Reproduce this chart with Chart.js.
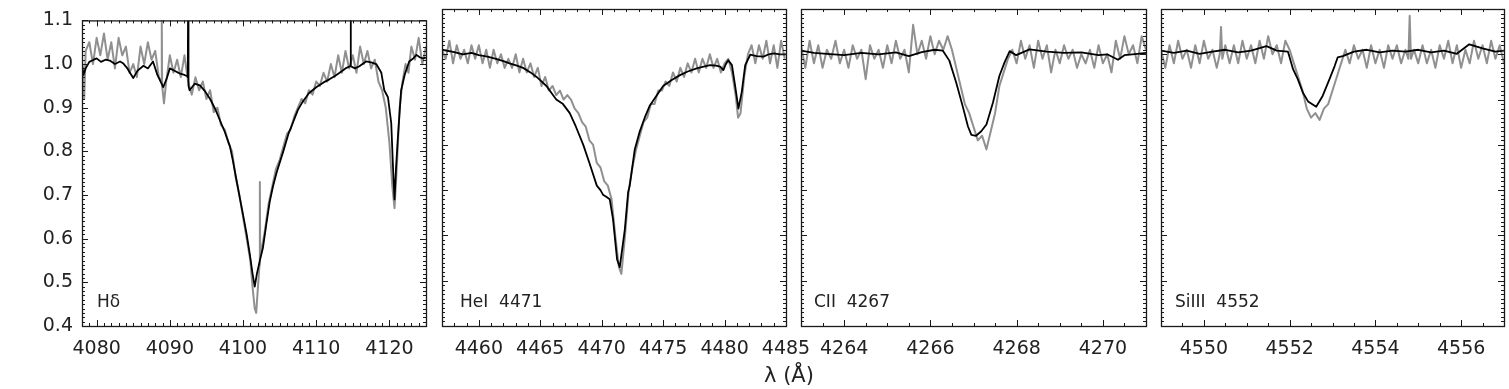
<!DOCTYPE html>
<html><head><meta charset="utf-8">
<script src="https://cdn.jsdelivr.net/npm/chart.js@4.4.1/dist/chart.umd.min.js"></script>
<style>
html,body{margin:0;padding:0;background:#fff;}
#wrap{position:relative;width:1509px;height:389px;overflow:hidden;background:#fff;}
#wrap canvas{position:absolute;left:0;top:0;}
</style></head><body>
<div id="wrap">
<canvas id="c0" width="1509" height="389"></canvas>
<canvas id="c1" width="1509" height="389"></canvas>
<canvas id="c2" width="1509" height="389"></canvas>
<canvas id="c3" width="1509" height="389"></canvas>
</div>
<script>
// ---------- Tick labels / text ----------
const yTicks = [0.4, 0.5, 0.6, 0.7, 0.8, 0.9, 1.0, 1.1];
const hdTicks = [4080, 4090, 4100, 4110, 4120];
const heTicks = [4460, 4465, 4470, 4475, 4480, 4485];
const ciiTicks = [4264, 4266, 4268, 4270];
const siTicks = [4550, 4552, 4554, 4556];
const panelLabels = ['Hδ', 'HeI  4471', 'CII  4267', 'SiIII  4552'];
const axisTitle = 'λ (Å)';

// ---------- Hδ panel ----------
const hdModelWave = [4078.0,4078.2,4078.5,4079.0,4079.6,4080.0,4080.6,4081.2,4081.8,4082.5,4083.2,4083.6,4084.2,4085.0,4085.6,4086.4,4087.0,4087.7,4088.3,4089.1,4089.6,4090.0,4090.7,4091.4,4092.0,4092.4,4092.45,4092.5,4092.55,4092.7,4093.4,4094.1,4094.8,4095.5,4096.2,4096.8,4097.5,4098.2,4098.6,4099.1,4099.6,4100.0,4100.5,4100.92,4101.3,4101.6,4101.9,4102.3,4102.73,4103.2,4103.65,4104.1,4104.6,4105.5,4106.2,4106.8,4107.5,4108.2,4109.0,4110.0,4111.0,4111.8,4112.5,4113.2,4114.0,4114.6,4114.65,4114.7,4114.75,4115.3,4115.9,4116.8,4117.5,4118.2,4118.9,4119.3,4119.8,4120.25,4120.5,4120.7,4120.9,4121.15,4121.6,4122.1,4122.7,4123.2,4123.7,4124.2,4124.6,4125.0];
const hdModelFlux = [1.000,0.975,0.990,1.005,1.010,1.013,1.005,1.010,1.008,1.000,1.006,1.002,0.990,0.968,0.985,0.996,0.990,1.006,0.975,0.947,0.968,0.990,0.984,0.978,0.975,0.972,0.970,1.150,0.950,0.940,0.955,0.951,0.938,0.920,0.897,0.873,0.845,0.812,0.780,0.735,0.690,0.655,0.610,0.565,0.520,0.490,0.520,0.550,0.580,0.635,0.685,0.720,0.752,0.800,0.840,0.865,0.895,0.915,0.933,0.947,0.958,0.965,0.972,0.980,0.990,0.995,0.995,1.150,0.995,0.990,0.995,1.006,1.004,1.000,0.980,0.940,0.924,0.865,0.760,0.690,0.760,0.830,0.940,0.976,1.006,1.012,1.021,1.015,1.013,1.015];
const hdObsWave = [4078.0,4078.3,4078.5,4079.0,4079.5,4080.0,4080.5,4081.0,4081.5,4082.0,4082.5,4083.0,4083.5,4084.0,4084.5,4085.0,4085.5,4086.0,4086.5,4087.0,4087.5,4088.0,4088.5,4088.85,4088.9,4088.95,4089.2,4089.5,4090.0,4090.5,4091.0,4091.5,4092.0,4092.5,4093.0,4093.5,4094.0,4094.5,4095.0,4095.5,4096.0,4096.5,4097.0,4097.5,4098.0,4098.5,4099.0,4099.5,4100.0,4100.5,4101.0,4101.3,4101.6,4101.8,4102.0,4102.25,4102.3,4102.35,4102.7,4103.0,4103.5,4104.0,4104.5,4105.0,4105.5,4106.0,4106.5,4107.0,4107.5,4108.0,4108.5,4109.0,4109.5,4110.0,4110.5,4111.0,4111.5,4112.0,4112.5,4113.0,4113.5,4114.0,4114.5,4115.0,4115.5,4116.0,4116.5,4117.0,4117.5,4118.0,4118.5,4119.0,4119.5,4120.0,4120.4,4120.7,4121.0,4121.4,4121.8,4122.2,4122.6,4123.0,4123.5,4124.0,4124.5,4125.0];
const hdObsFlux = [1.01,0.92,1.03,1.05,1.00,1.06,1.02,1.07,1.01,1.05,0.99,1.06,1.02,1.04,0.98,1.00,0.97,1.04,1.00,1.05,1.01,1.03,0.97,0.96,1.10,0.95,0.91,0.96,1.02,0.98,1.01,0.97,1.02,0.96,0.93,0.97,0.94,0.96,0.92,0.94,0.89,0.90,0.86,0.85,0.82,0.80,0.74,0.70,0.65,0.60,0.55,0.49,0.44,0.43,0.48,0.54,0.73,0.56,0.59,0.62,0.68,0.72,0.76,0.78,0.81,0.84,0.85,0.88,0.90,0.92,0.91,0.94,0.93,0.96,0.95,0.98,0.96,1.00,0.97,1.02,0.98,1.03,0.99,1.02,0.98,1.04,1.00,1.03,0.99,1.01,0.96,0.94,0.90,0.82,0.72,0.67,0.76,0.90,0.96,1.00,0.98,1.04,1.01,1.06,1.00,1.04];

// ---------- HeI 4471 panel ----------
const heModelWave = [4457.0,4458.0,4458.7,4459.4,4460.0,4460.7,4461.4,4462.0,4462.5,4463.1,4463.6,4464.2,4464.7,4465.1,4465.5,4465.9,4466.3,4466.85,4467.4,4467.9,4468.5,4469.0,4469.6,4469.9,4470.1,4470.4,4470.65,4470.92,4471.25,4471.47,4471.88,4472.15,4472.28,4472.69,4473.1,4473.5,4473.92,4474.5,4475.0,4475.7,4476.37,4477.0,4477.73,4478.3,4478.82,4479.3,4479.64,4479.9,4480.1,4480.3,4480.6,4480.86,4481.13,4481.4,4481.68,4482.09,4482.6,4483.17,4483.6,4484.0,4484.5,4485.0];
const heModelFlux = [1.010,1.005,1.000,1.003,0.998,0.995,0.990,0.985,0.980,0.975,0.970,0.960,0.950,0.940,0.930,0.915,0.900,0.890,0.870,0.840,0.800,0.760,0.710,0.700,0.690,0.685,0.680,0.636,0.547,0.530,0.613,0.695,0.710,0.790,0.830,0.860,0.887,0.910,0.930,0.943,0.954,0.962,0.969,0.973,0.976,0.975,0.973,0.965,0.978,0.987,0.976,0.930,0.880,0.917,0.976,0.999,0.996,0.995,1.000,1.002,1.000,1.000];
const heObsWave = [4457.0,4457.3,4457.6,4457.9,4458.2,4458.5,4458.8,4459.1,4459.4,4459.7,4460.0,4460.3,4460.6,4460.9,4461.2,4461.5,4461.8,4462.1,4462.4,4462.7,4463.0,4463.3,4463.6,4463.9,4464.2,4464.5,4464.8,4465.1,4465.4,4465.7,4466.0,4466.3,4466.6,4466.9,4467.2,4467.5,4467.8,4468.1,4468.4,4468.7,4469.0,4469.3,4469.6,4469.9,4470.2,4470.5,4470.8,4471.1,4471.4,4471.6,4471.9,4472.2,4472.5,4472.8,4473.1,4473.4,4473.7,4474.0,4474.3,4474.6,4474.9,4475.2,4475.5,4475.8,4476.1,4476.4,4476.7,4477.0,4477.3,4477.6,4477.9,4478.2,4478.5,4478.8,4479.1,4479.4,4479.7,4480.0,4480.3,4480.6,4480.9,4481.1,4481.3,4481.6,4481.9,4482.2,4482.5,4482.8,4483.1,4483.4,4483.7,4484.0,4484.3,4484.6,4484.9];
const heObsFlux = [1.01,0.99,1.03,0.98,1.02,0.99,1.01,0.98,1.02,0.99,1.02,0.98,1.01,0.97,1.01,0.98,1.00,0.97,0.99,0.97,1.00,0.96,0.99,0.96,0.98,0.95,0.97,0.93,0.95,0.92,0.93,0.91,0.92,0.90,0.91,0.90,0.88,0.87,0.85,0.84,0.81,0.80,0.76,0.75,0.72,0.71,0.68,0.60,0.53,0.515,0.60,0.70,0.75,0.79,0.82,0.85,0.86,0.89,0.89,0.92,0.92,0.94,0.93,0.96,0.94,0.97,0.95,0.98,0.96,0.99,0.96,0.99,0.97,1.00,0.97,0.99,0.96,0.98,0.99,0.96,0.91,0.86,0.87,0.95,1.00,1.02,0.98,1.02,0.99,1.03,0.98,1.02,0.97,1.03,0.99];

// ---------- CII 4267 panel ----------
const ciiModelWave = [4263.0,4263.3,4263.6,4264.0,4264.4,4264.8,4265.2,4265.5,4265.8,4266.1,4266.29,4266.44,4266.6,4266.75,4266.87,4266.95,4267.06,4267.18,4267.3,4267.45,4267.6,4267.72,4267.84,4267.99,4268.3,4268.7,4269.1,4269.5,4269.9,4270.1,4270.35,4270.5,4270.8,4271.0];
const ciiModelFlux = [1.008,1.003,1.001,0.998,1.003,1.000,1.004,0.996,1.005,1.010,1.008,0.986,0.937,0.885,0.841,0.822,0.820,0.830,0.845,0.893,0.952,0.982,1.007,0.998,1.011,1.006,1.003,1.004,0.998,1.000,0.988,0.998,1.001,1.003];
const ciiObsWave = [4263.0,4263.1,4263.2,4263.3,4263.4,4263.5,4263.6,4263.7,4263.8,4263.9,4264.0,4264.1,4264.2,4264.3,4264.4,4264.5,4264.6,4264.7,4264.8,4264.9,4265.0,4265.1,4265.2,4265.3,4265.4,4265.5,4265.6,4265.7,4265.8,4265.9,4266.0,4266.1,4266.2,4266.3,4266.4,4266.5,4266.6,4266.7,4266.8,4266.9,4267.0,4267.1,4267.2,4267.3,4267.4,4267.5,4267.6,4267.7,4267.8,4267.9,4268.0,4268.1,4268.2,4268.3,4268.4,4268.5,4268.6,4268.7,4268.8,4268.9,4269.0,4269.1,4269.2,4269.3,4269.4,4269.5,4269.6,4269.7,4269.8,4269.9,4270.0,4270.1,4270.2,4270.3,4270.4,4270.5,4270.6,4270.7,4270.8,4270.9,4271.0];
const ciiObsFlux = [1.02,0.97,1.03,0.98,1.02,0.97,1.01,0.99,1.03,0.98,1.01,0.97,1.02,0.99,1.01,0.945,1.02,0.99,1.01,0.97,1.02,0.98,1.03,0.99,1.01,0.96,1.065,1.00,1.03,0.99,1.04,1.00,1.03,1.01,1.04,1.01,0.97,0.93,0.89,0.87,0.84,0.81,0.82,0.79,0.83,0.87,0.93,0.96,0.99,1.01,0.98,1.03,0.99,1.02,0.97,1.03,0.99,1.02,0.96,1.01,0.98,1.02,0.99,1.01,0.97,1.00,0.98,1.01,0.97,1.02,0.98,1.00,0.96,1.03,0.99,1.04,1.00,1.02,0.98,1.04,1.01];

// ---------- SiIII 4552 panel ----------
const siModelWave = [4549.0,4549.3,4549.6,4549.9,4550.2,4550.5,4550.8,4551.1,4551.46,4551.7,4551.96,4552.08,4552.19,4552.31,4552.43,4552.62,4552.77,4552.93,4553.05,4553.12,4553.24,4553.5,4553.8,4554.1,4554.4,4554.7,4555.0,4555.3,4555.6,4555.9,4556.19,4556.5,4556.8,4557.0];
const siModelFlux = [1.008,1.003,1.008,1.001,1.006,1.010,1.004,1.008,1.018,1.008,1.006,0.967,0.945,0.915,0.896,0.884,0.908,0.945,0.974,0.993,0.996,1.006,1.010,1.004,1.008,1.006,1.010,1.004,1.008,1.001,1.022,1.013,1.006,1.008];
const siObsWave = [4549.0,4549.1,4549.2,4549.3,4549.4,4549.5,4549.6,4549.7,4549.8,4549.9,4550.0,4550.1,4550.2,4550.3,4550.37,4550.4,4550.43,4550.5,4550.6,4550.7,4550.8,4550.9,4551.0,4551.1,4551.2,4551.3,4551.4,4551.5,4551.6,4551.7,4551.8,4551.9,4552.0,4552.1,4552.2,4552.3,4552.4,4552.5,4552.6,4552.7,4552.8,4552.9,4553.0,4553.1,4553.2,4553.3,4553.4,4553.5,4553.6,4553.7,4553.8,4553.9,4554.0,4554.1,4554.2,4554.3,4554.4,4554.5,4554.6,4554.7,4554.77,4554.8,4554.83,4554.9,4555.0,4555.1,4555.2,4555.3,4555.4,4555.5,4555.6,4555.7,4555.8,4555.9,4556.0,4556.1,4556.2,4556.3,4556.4,4556.5,4556.6,4556.7,4556.8,4556.9,4557.0];
const siObsFlux = [1.01,0.97,1.02,0.98,1.03,0.99,1.01,0.97,1.02,0.98,1.03,0.99,1.01,0.97,1.00,1.06,0.99,1.02,0.98,1.02,0.98,1.03,0.99,1.02,0.98,1.03,0.99,1.04,1.00,1.02,0.98,1.03,1.01,0.98,0.95,0.92,0.88,0.86,0.87,0.855,0.88,0.89,0.92,0.95,0.98,1.01,0.98,1.02,0.99,1.01,0.97,1.02,0.98,1.01,0.97,1.02,0.99,1.02,0.98,1.01,0.99,1.085,0.99,1.01,0.98,1.02,0.98,1.01,0.97,1.02,0.99,1.03,0.98,1.02,0.97,1.01,0.98,1.03,0.99,1.02,0.98,1.03,0.99,1.02,0.98];

// ---------- layout (pixels) ----------
const W = 1509, H = 389, TOP = 9, BOTTOM = 326, YAXIS_W = 82;
const panels = [
  {canvas:'c0', left:82,   right:426,  xMin:4078, xMax:4125, ticks:hdTicks,  major:10, minor:1,   label:panelLabels[0], labelDx:15, showY:true,  model:[hdModelWave,hdModelFlux],   obs:[hdObsWave,hdObsFlux],   title:true},
  {canvas:'c1', left:442,  right:786,  xMin:4457, xMax:4485, ticks:heTicks,  major:5,  minor:1,   label:panelLabels[1], labelDx:18, showY:false, model:[heModelWave,heModelFlux],   obs:[heObsWave,heObsFlux]},
  {canvas:'c2', left:801,  right:1146, xMin:4263, xMax:4271, ticks:ciiTicks, major:2,  minor:0.5, label:panelLabels[2], labelDx:13, showY:false, model:[ciiModelWave,ciiModelFlux], obs:[ciiObsWave,ciiObsFlux]},
  {canvas:'c3', left:1161, right:1504, xMin:4549, xMax:4557, ticks:siTicks,  major:2,  minor:0.5, label:panelLabels[3], labelDx:14, showY:false, model:[siModelWave,siModelFlux],   obs:[siObsWave,siObsFlux]}
];

function toPts(pair) {
  const [w, f] = pair;
  const n = Math.min(w.length, f.length);
  const out = [];
  for (let i = 0; i < n; i++) out.push({x: w[i], y: f[i]});
  return out;
}

function framePlugin(p) {
  return {
    id: 'frame_' + p.canvas,
    afterDatasetsDraw(chart) {
      const {ctx, chartArea: a} = chart;
      const xs = chart.scales.x, ys = chart.scales.y;
      ctx.save();
      ctx.strokeStyle = '#1a1a1a';
      ctx.lineWidth = 1;
      ctx.beginPath();
      const i0 = Math.ceil(p.xMin / p.minor - 1e-6), i1 = Math.floor(p.xMax / p.minor + 1e-6);
      for (let i = i0; i <= i1; i++) {
        const v = i * p.minor;
        const r = v / p.major;
        const maj = Math.abs(r - Math.round(r)) < 1e-6;
        const len = maj ? 6 : 3;
        const px = Math.round(xs.getPixelForValue(v)) + 0.5;
        ctx.moveTo(px, a.bottom); ctx.lineTo(px, a.bottom - len);
        ctx.moveTo(px, a.top); ctx.lineTo(px, a.top + len);
      }
      for (let j = 40; j <= 110; j++) {
        const v = j / 100;
        const len = (j % 10 === 0) ? 6 : 3;
        const py = Math.round(ys.getPixelForValue(v)) + 0.5;
        ctx.moveTo(a.left, py); ctx.lineTo(a.left + len, py);
        ctx.moveTo(a.right, py); ctx.lineTo(a.right - len, py);
      }
      ctx.stroke();
      ctx.lineWidth = 1.3;
      ctx.strokeRect(a.left + 0.5, a.top + 0.5, a.right - a.left, a.bottom - a.top);
      ctx.fillStyle = '#222';
      ctx.font = '17px "DejaVu Sans"';
      ctx.textBaseline = 'middle';
      ctx.textAlign = 'left';
      ctx.fillText(p.label, a.left + p.labelDx, 303);
      if (p.title) {
        ctx.font = '21px "DejaVu Sans"';
        ctx.textAlign = 'center';
        ctx.fillText(axisTitle, 789, 377);
      }
      ctx.restore();
    }
  };
}

panels.forEach(p => {
  new Chart(document.getElementById(p.canvas), {
    type: 'line',
    data: {
      datasets: [
        {data: toPts(p.model), borderColor: '#000', borderWidth: 1.8, order: 0},
        {data: toPts(p.obs), borderColor: '#909090', borderWidth: 2, order: 1}
      ]
    },
    options: {
      responsive: false,
      animation: false,
      devicePixelRatio: 1,
      events: [],
      elements: {point: {radius: 0}, line: {tension: 0, borderJoinStyle: 'round'}},
      layout: {padding: {left: p.showY ? p.left - YAXIS_W : p.left, right: W - p.right, top: TOP, bottom: 0}},
      plugins: {legend: {display: false}, tooltip: {enabled: false}},
      scales: {
        x: {
          type: 'linear', min: p.xMin, max: p.xMax,
          grid: {display: false, drawTicks: false}, border: {display: false},
          afterBuildTicks: s => { s.ticks = p.ticks.map(v => ({value: v})); },
          afterFit: s => { s.height = H - BOTTOM; },
          ticks: {padding: 12, color: '#222', font: {family: 'DejaVu Sans', size: 19}, maxRotation: 0, autoSkip: false, callback: v => String(v)}
        },
        y: {
          type: 'linear', min: 0.4, max: 1.1, display: p.showY,
          grid: {display: false, drawTicks: false}, border: {display: false},
          afterBuildTicks: s => { s.ticks = yTicks.map(v => ({value: v})); },
          afterFit: s => { s.width = p.showY ? YAXIS_W : 0; },
          ticks: {padding: 9, color: '#222', font: {family: 'DejaVu Sans', size: 19}, callback: v => Number(v).toFixed(1)}
        }
      }
    },
    plugins: [framePlugin(p)]
  });
});
</script>
</body></html>
